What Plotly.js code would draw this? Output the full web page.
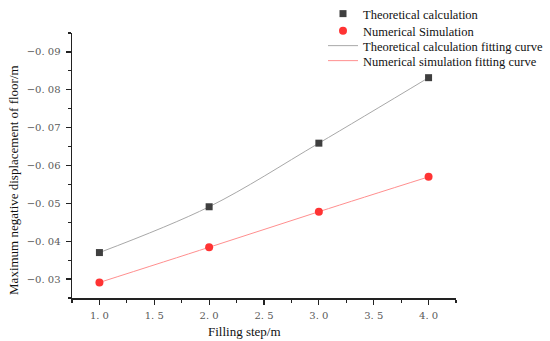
<!DOCTYPE html>
<html>
<head>
<meta charset="utf-8">
<script src="https://cdn.plot.ly/plotly-3.0.1.min.js"></script>
<style>html,body{margin:0;padding:0;background:#fff;}#chart{width:550px;height:341px;}</style>
</head>
<body>
<div id="chart"></div>
<script>
var fillingStep = [1.0, 2.0, 3.0, 4.0];
var theoretical = [-0.0370, -0.0491, -0.0659, -0.0832];
var numerical = [-0.0291, -0.0384, -0.0478, -0.0570];
var xTickVals = [1.0, 1.5, 2.0, 2.5, 3.0, 3.5, 4.0];
var xTickText = ['1. 0', '1. 5', '2. 0', '2. 5', '3. 0', '3. 5', '4. 0'];
var yTickVals = [-0.03, -0.04, -0.05, -0.06, -0.07, -0.08, -0.09];
var yTickText = ['\u22120. 03', '\u22120. 04', '\u22120. 05', '\u22120. 06', '\u22120. 07', '\u22120. 08', '\u22120. 09'];

var serif = 'Liberation Serif, Times New Roman, serif';
var tickFont = {family: 'DejaVu Serif, serif', size: 10, color: '#5a5a5a'};

var traces = [
  {x: fillingStep, y: theoretical, mode: 'lines', name: 'Theoretical calculation fitting curve',
   line: {color: '#a8a8a8', width: 1, shape: 'spline'}, legend: 'legend3'},
  {x: fillingStep, y: numerical, mode: 'lines', name: 'Numerical simulation fitting curve',
   line: {color: '#ff8f8f', width: 1, shape: 'spline'}, legend: 'legend4'},
  {x: fillingStep, y: theoretical, mode: 'markers', name: 'Theoretical calculation',
   marker: {symbol: 'square', size: 7, color: '#3f3f3f'}, legend: 'legend'},
  {x: fillingStep, y: numerical, mode: 'markers', name: 'Numerical Simulation',
   marker: {symbol: 'circle', size: 8, color: '#ff3333'}, legend: 'legend2'}
];

function leg(yPx) {
  return {
    xref: 'container', yref: 'container',
    x: 323 / 550, y: 1 - yPx / 341, xanchor: 'left', yanchor: 'middle',
    bgcolor: 'rgba(0,0,0,0)', borderwidth: 0,
    font: {family: serif, size: 12.5, color: '#111'}
  };
}

var layout = {
  width: 550, height: 341,
  margin: {l: 72, r: 94, t: 33, b: 43, autoexpand: false},
  paper_bgcolor: '#fff', plot_bgcolor: '#fff',
  showlegend: true,
  legend: leg(14),
  legend2: leg(31),
  legend3: leg(46),
  legend4: leg(61),
  xaxis: {
    range: [0.75, 4.25], tickvals: xTickVals, ticktext: xTickText,
    ticks: 'outside', ticklen: 5, tickwidth: 1.2, tickcolor: '#222',
    showline: true, linecolor: '#222', linewidth: 1.5, showgrid: false, zeroline: false,
    tickfont: tickFont, ticklabelstandoff: 2,
    minor: {dtick: 0.25, tick0: 0.75, ticks: 'outside', ticklen: 3, tickcolor: '#222', showgrid: false}
  },
  yaxis: {
    range: [-0.025, -0.095], tickvals: yTickVals, ticktext: yTickText,
    ticks: 'outside', ticklen: 5, tickwidth: 1.2, tickcolor: '#222',
    showline: true, linecolor: '#222', linewidth: 1.5, showgrid: false, zeroline: false,
    tickfont: tickFont, ticklabelstandoff: 3,
    minor: {dtick: 0.005, tick0: -0.025, ticks: 'outside', ticklen: 3, tickcolor: '#222', showgrid: false}
  },
  annotations: [
    {text: 'Filling step/m', xref: 'paper', yref: 'paper', x: 0.449, y: -0.125, xanchor: 'center', yanchor: 'middle',
     showarrow: false, font: {family: serif, size: 13, color: '#111'}},
    {text: 'Maximum negative displacement of floor/m', xref: 'paper', yref: 'paper', x: -0.154, y: 0.445,
     xanchor: 'center', yanchor: 'middle', textangle: -90,
     showarrow: false, font: {family: serif, size: 13, color: '#111'}}
  ]
};

Plotly.newPlot('chart', traces, layout, {displayModeBar: false, staticPlot: true});
</script>
</body>
</html>
